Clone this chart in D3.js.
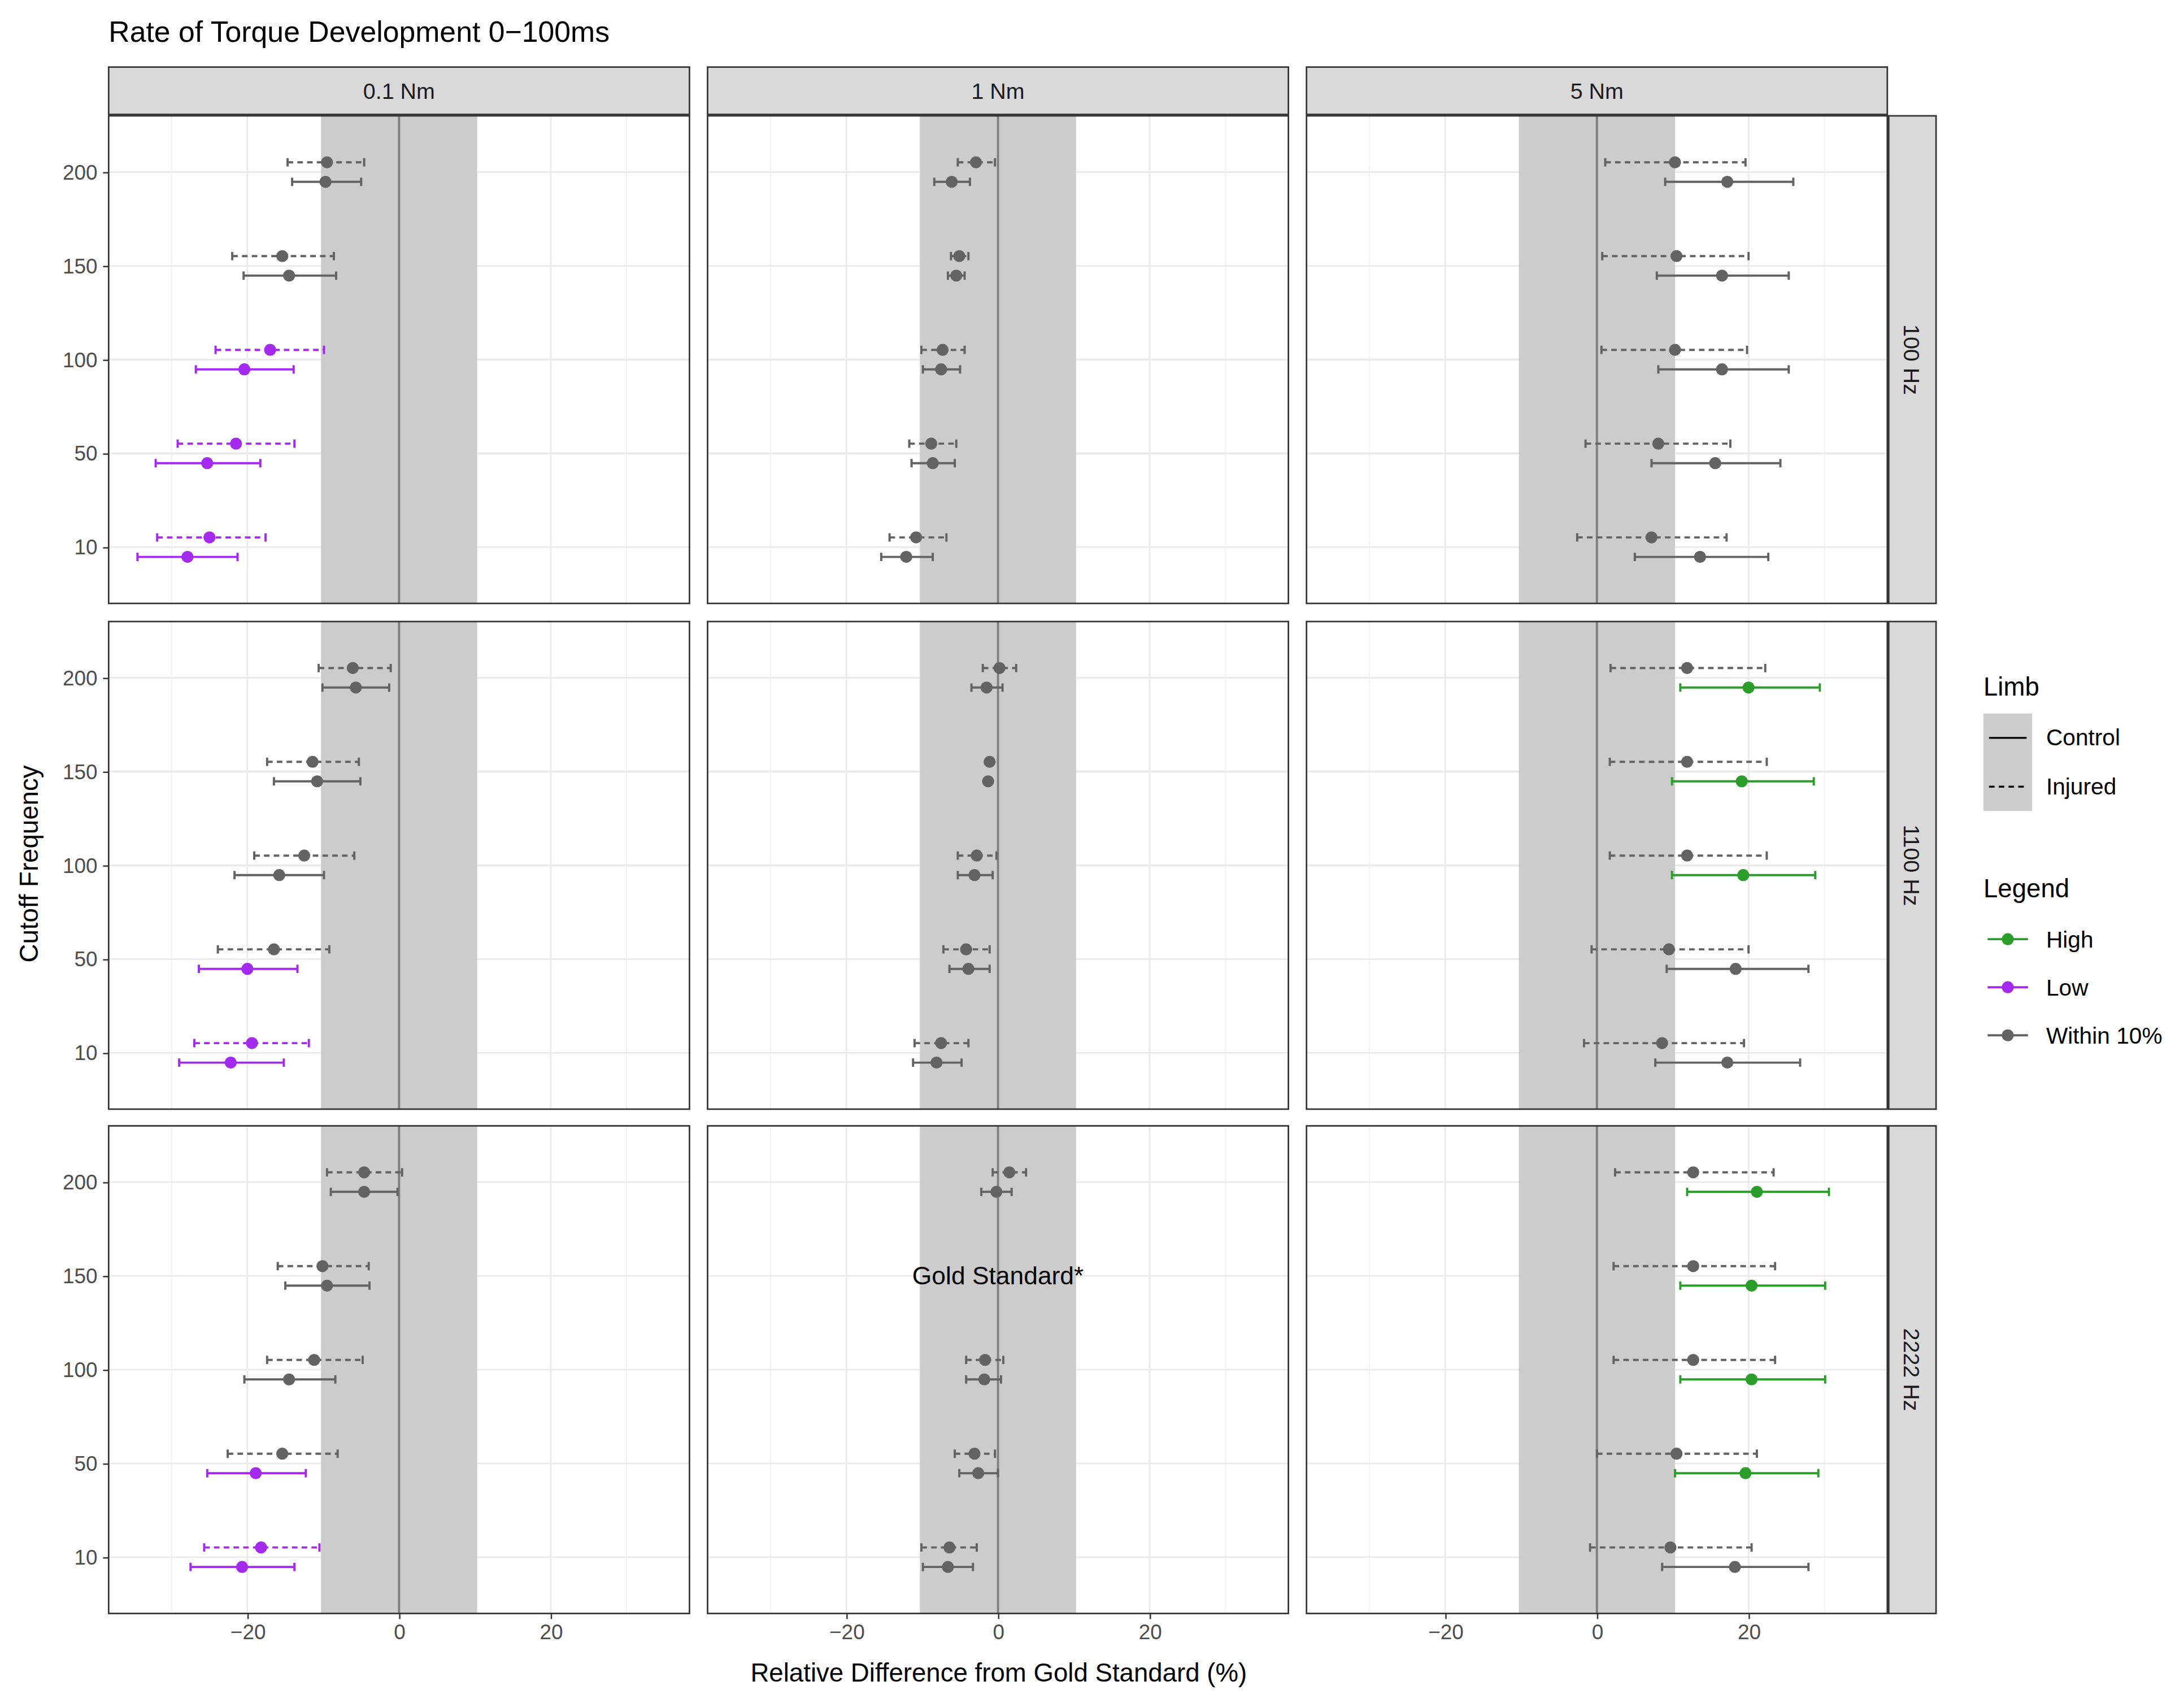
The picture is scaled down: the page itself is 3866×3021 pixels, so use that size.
<!DOCTYPE html>
<html>
<head>
<meta charset="utf-8">
<script src="https://cdn.jsdelivr.net/npm/d3@7"></script>
<style>
  body { margin: 0; background: #fff; }
  text { font-family: "Liberation Sans", Arial, sans-serif; }
</style>
</head>
<body>
<div id="chart"></div>
<script>
// facets
const torques = ['0.1 Nm', '1 Nm', '5 Nm'];
const filters = ['100 Hz', '1100 Hz', '2222 Hz'];
const cutoffs = ['200', '150', '100', '50', '10'];
const xTicks = [-20, 0, 20];

// [mean, lo, hi, class] per filter row -> torque col -> cutoff (200,150,100,50,10)
// class: W = within 10%, L = low, H = high, null = gold standard (no point)
const injured = [
  [
    [[-9.5,-14.7,-4.6,'W'],[-15.4,-22,-8.6,'W'],[-17,-24.2,-9.9,'L'],[-21.5,-29.2,-13.8,'L'],[-25,-31.9,-17.6,'L']],
    [[-2.9,-5.3,-0.4,'W'],[-5.1,-6.2,-3.9,'W'],[-7.3,-10.1,-4.4,'W'],[-8.8,-11.7,-5.5,'W'],[-10.8,-14.3,-6.8,'W']],
    [[10.3,1.1,19.6,'W'],[10.5,0.7,20,'W'],[10.3,0.6,19.8,'W'],[8.1,-1.5,17.6,'W'],[7.2,-2.6,17.1,'W']]
  ],
  [
    [[-6.1,-10.6,-1.1,'W'],[-11.4,-17.4,-5.3,'W'],[-12.5,-19.1,-5.9,'W'],[-16.5,-23.9,-9.2,'W'],[-19.4,-27,-11.9,'L']],
    [[0.2,-2,2.4,'W'],[-1.1,-1.4,-0.8,'W'],[-2.8,-5.3,-0.2,'W'],[-4.2,-7.2,-1.1,'W'],[-7.5,-11,-3.9,'W']],
    [[11.9,1.8,22.2,'W'],[11.9,1.7,22.4,'W'],[11.9,1.7,22.4,'W'],[9.5,-0.7,20,'W'],[8.6,-1.7,19.4,'W']]
  ],
  [
    [[-4.6,-9.5,0.4,'W'],[-10.1,-16,-4,'W'],[-11.2,-17.4,-4.8,'W'],[-15.4,-22.6,-8.1,'W'],[-18.2,-25.7,-10.5,'L']],
    [[1.5,-0.7,3.7,'W'],null,[-1.7,-4.2,0.7,'W'],[-3.1,-5.7,-0.4,'W'],[-6.4,-10.1,-2.8,'W']],
    [[12.7,2.4,23.3,'W'],[12.7,2.2,23.5,'W'],[12.7,2.2,23.5,'W'],[10.5,0,21.1,'W'],[9.7,-0.9,20.4,'W']]
  ]
];
const control = [
  [
    [[-9.7,-14.1,-5,'W'],[-14.5,-20.5,-8.3,'W'],[-20.4,-26.8,-13.9,'L'],[-25.3,-32.1,-18.3,'L'],[-27.9,-34.5,-21.3,'L']],
    [[-6.1,-8.4,-3.7,'W'],[-5.5,-6.6,-4.4,'W'],[-7.5,-9.9,-5,'W'],[-8.6,-11.4,-5.7,'W'],[-12.1,-15.4,-8.6,'W']],
    [[17.2,9,25.9,'W'],[16.5,7.9,25.3,'W'],[16.5,8.1,25.3,'W'],[15.6,7.2,24.2,'W'],[13.6,5,22.6,'W']]
  ],
  [
    [[-5.7,-10.1,-1.3,'W'],[-10.8,-16.5,-5.1,'W'],[-15.8,-21.7,-9.9,'W'],[-20,-26.4,-13.4,'L'],[-22.2,-29,-15.2,'L']],
    [[-1.5,-3.5,0.6,'W'],[-1.3,-1.6,-1,'W'],[-3.1,-5.3,-0.7,'W'],[-3.9,-6.4,-1.1,'W'],[-8.1,-11.2,-4.8,'W']],
    [[20,11,29.4,'H'],[19.1,9.9,28.6,'H'],[19.3,9.9,28.8,'H'],[18.3,9.2,27.9,'W'],[17.2,7.7,26.8,'W']]
  ],
  [
    [[-4.6,-9,-0.2,'W'],[-9.5,-15,-3.9,'W'],[-14.5,-20.4,-8.4,'W'],[-18.9,-25.3,-12.3,'L'],[-20.7,-27.5,-13.8,'L']],
    [[-0.2,-2.2,1.8,'W'],null,[-1.8,-4.2,0.4,'W'],[-2.6,-5.1,0,'W'],[-6.6,-9.9,-3.3,'W']],
    [[21.1,11.9,30.6,'H'],[20.4,11,30.1,'H'],[20.4,11,30.1,'H'],[19.6,10.3,29.2,'H'],[18.2,8.6,27.9,'W']]
  ]
];
const classNames = { H: 'High', L: 'Low', W: 'Within 10%' };
const classColors = { H: '#2a9d2a', L: '#a52af0', W: '#636363' };

const W = 1568, H = 1225;
const svg = d3.select('#chart').append('svg')
  .attr('width', 3866).attr('height', 3021)
  .attr('viewBox', `0 0 ${W} ${H}`);

const colX = [78, 508, 938], panelW = 417;
const rowY = [83, 446, 808], panelH = 350;
const stripH = 34;

const x = d3.scaleLinear().domain([-38.3, 38.3]).range([0, panelW]);
const y = d3.scalePoint().domain(cutoffs).range([0, panelH]).padding(0.6);

svg.append('text').attr('x', 78).attr('y', 30).attr('font-size', 21).attr('fill', '#000')
  .text('Rate of Torque Development 0\u2212100ms');

// column strips
torques.forEach((t, c) => {
  const g = svg.append('g').attr('transform', `translate(${colX[c]},48)`);
  g.append('rect').attr('width', panelW).attr('height', stripH)
    .attr('fill', '#d9d9d9').attr('stroke', '#333').attr('stroke-width', 1.1);
  g.append('text').attr('x', panelW / 2).attr('y', stripH / 2 + 6).attr('text-anchor', 'middle')
    .attr('font-size', 16).attr('fill', '#1a1a1a').text(t);
});

filters.forEach((f, r) => {
  const g = svg.append('g').attr('transform', `translate(1356,${rowY[r]})`);
  g.append('rect').attr('width', stripH).attr('height', panelH)
    .attr('fill', '#d9d9d9').attr('stroke', '#333').attr('stroke-width', 1.1);
  g.append('text').attr('transform', `translate(${stripH / 2 - 6},${panelH / 2}) rotate(90)`)
    .attr('text-anchor', 'middle').attr('font-size', 16).attr('fill', '#1a1a1a').text(f);

  // y axis ticks
  const ya = svg.append('g').attr('transform', `translate(78,${rowY[r]})`)
    .call(d3.axisLeft(y).tickSize(4).tickPadding(4));
  ya.select('.domain').remove();
  ya.selectAll('line').attr('stroke', '#333');
  ya.selectAll('text').attr('font-size', 15).attr('fill', '#4d4d4d')
    .style('font-family', '"Liberation Sans", Arial, sans-serif');
});

const off = 7;
const capH = 3;

filters.forEach((f, r) => {
  torques.forEach((t, c) => {
    const g = svg.append('g').attr('transform', `translate(${colX[c]},${rowY[r]})`);
    g.append('rect').attr('width', panelW).attr('height', panelH).attr('fill', '#fff');
    // minor grid
    [-30, -10, 10, 30].forEach(v => g.append('line').attr('x1', x(v)).attr('x2', x(v))
      .attr('y1', 0).attr('y2', panelH).attr('stroke', '#f2f2f2').attr('stroke-width', 0.8));
    xTicks.forEach(v => g.append('line').attr('x1', x(v)).attr('x2', x(v))
      .attr('y1', 0).attr('y2', panelH).attr('stroke', '#ebebeb').attr('stroke-width', 1.2));
    cutoffs.forEach(v => g.append('line').attr('x1', 0).attr('x2', panelW)
      .attr('y1', y(v)).attr('y2', y(v)).attr('stroke', '#ebebeb').attr('stroke-width', 1.2));
    // gold standard band
    g.append('rect').attr('x', x(-10.3)).attr('width', x(10.3) - x(-10.3))
      .attr('y', 0).attr('height', panelH).attr('fill', '#cccccc');
    g.append('line').attr('x1', x(0)).attr('x2', x(0)).attr('y1', 0).attr('y2', panelH)
      .attr('stroke', '#7f7f7f').attr('stroke-width', 1.6);

    const series = [
      { data: injured[r][c], dy: -off, dash: '4,3' },
      { data: control[r][c], dy: off, dash: null }
    ];
    series.forEach(s => {
      s.data.forEach((d, i) => {
        if (!d) return;
        const [m, lo, hi, cl] = d;
        const yy = y(cutoffs[i]) + s.dy;
        const col = classColors[cl];
        g.append('line').attr('x1', x(lo)).attr('x2', x(hi)).attr('y1', yy).attr('y2', yy)
          .attr('stroke', col).attr('stroke-width', 1.6).attr('stroke-dasharray', s.dash);
        [lo, hi].forEach(v => g.append('line').attr('x1', x(v)).attr('x2', x(v))
          .attr('y1', yy - capH).attr('y2', yy + capH).attr('stroke', col).attr('stroke-width', 1.6));
        g.append('circle').attr('cx', x(m)).attr('cy', yy).attr('r', 4.3).attr('fill', col);
      });
    });

    if (r === 2 && c === 1) {
      g.append('text').attr('x', x(0)).attr('y', y('150') + 6).attr('text-anchor', 'middle')
        .attr('font-size', 18).attr('fill', '#000').text('Gold Standard*');
    }

    g.append('rect').attr('width', panelW).attr('height', panelH).attr('fill', 'none')
      .attr('stroke', '#333').attr('stroke-width', 1.1);

    if (r === 2) {
      const xa = svg.append('g').attr('transform', `translate(${colX[c]},${rowY[r] + panelH})`)
        .call(d3.axisBottom(x).tickValues(xTicks).tickSize(4).tickPadding(4));
      xa.select('.domain').remove();
      xa.selectAll('line').attr('stroke', '#333');
      xa.selectAll('text').attr('font-size', 15).attr('fill', '#4d4d4d')
        .style('font-family', '"Liberation Sans", Arial, sans-serif');
    }
  });
});

// axis titles
svg.append('text').attr('x', 717).attr('y', 1207).attr('text-anchor', 'middle')
  .attr('font-size', 18.5).attr('fill', '#000').text('Relative Difference from Gold Standard (%)');
svg.append('text').attr('transform', 'translate(27,620) rotate(-90)').attr('text-anchor', 'middle')
  .attr('font-size', 18.5).attr('fill', '#000').text('Cutoff Frequency');

// legends
const lg = svg.append('g').attr('transform', 'translate(1424,0)');
lg.append('text').attr('x', 0).attr('y', 499).attr('font-size', 18.5).attr('fill', '#000').text('Limb');
[['Control', null], ['Injured', '4,3']].forEach((d, i) => {
  const yy = 512 + i * 35;
  lg.append('rect').attr('x', 0).attr('y', yy).attr('width', 35).attr('height', 35).attr('fill', '#cccccc');
  lg.append('line').attr('x1', 4).attr('x2', 31).attr('y1', yy + 17.5).attr('y2', yy + 17.5)
    .attr('stroke', '#000').attr('stroke-width', 1.4).attr('stroke-dasharray', d[1]);
  lg.append('text').attr('x', 45).attr('y', yy + 23).attr('font-size', 16.5).attr('fill', '#000').text(d[0]);
});
lg.append('text').attr('x', 0).attr('y', 644).attr('font-size', 18.5).attr('fill', '#000').text('Legend');
['H', 'L', 'W'].forEach((k, i) => {
  const yy = 674 + i * 34.5;
  lg.append('line').attr('x1', 3).attr('x2', 32).attr('y1', yy).attr('y2', yy)
    .attr('stroke', classColors[k]).attr('stroke-width', 1.6);
  lg.append('circle').attr('cx', 17.5).attr('cy', yy).attr('r', 4.3).attr('fill', classColors[k]);
  lg.append('text').attr('x', 45).attr('y', yy + 6).attr('font-size', 16.5).attr('fill', '#000').text(classNames[k]);
});
</script>
</body>
</html>
